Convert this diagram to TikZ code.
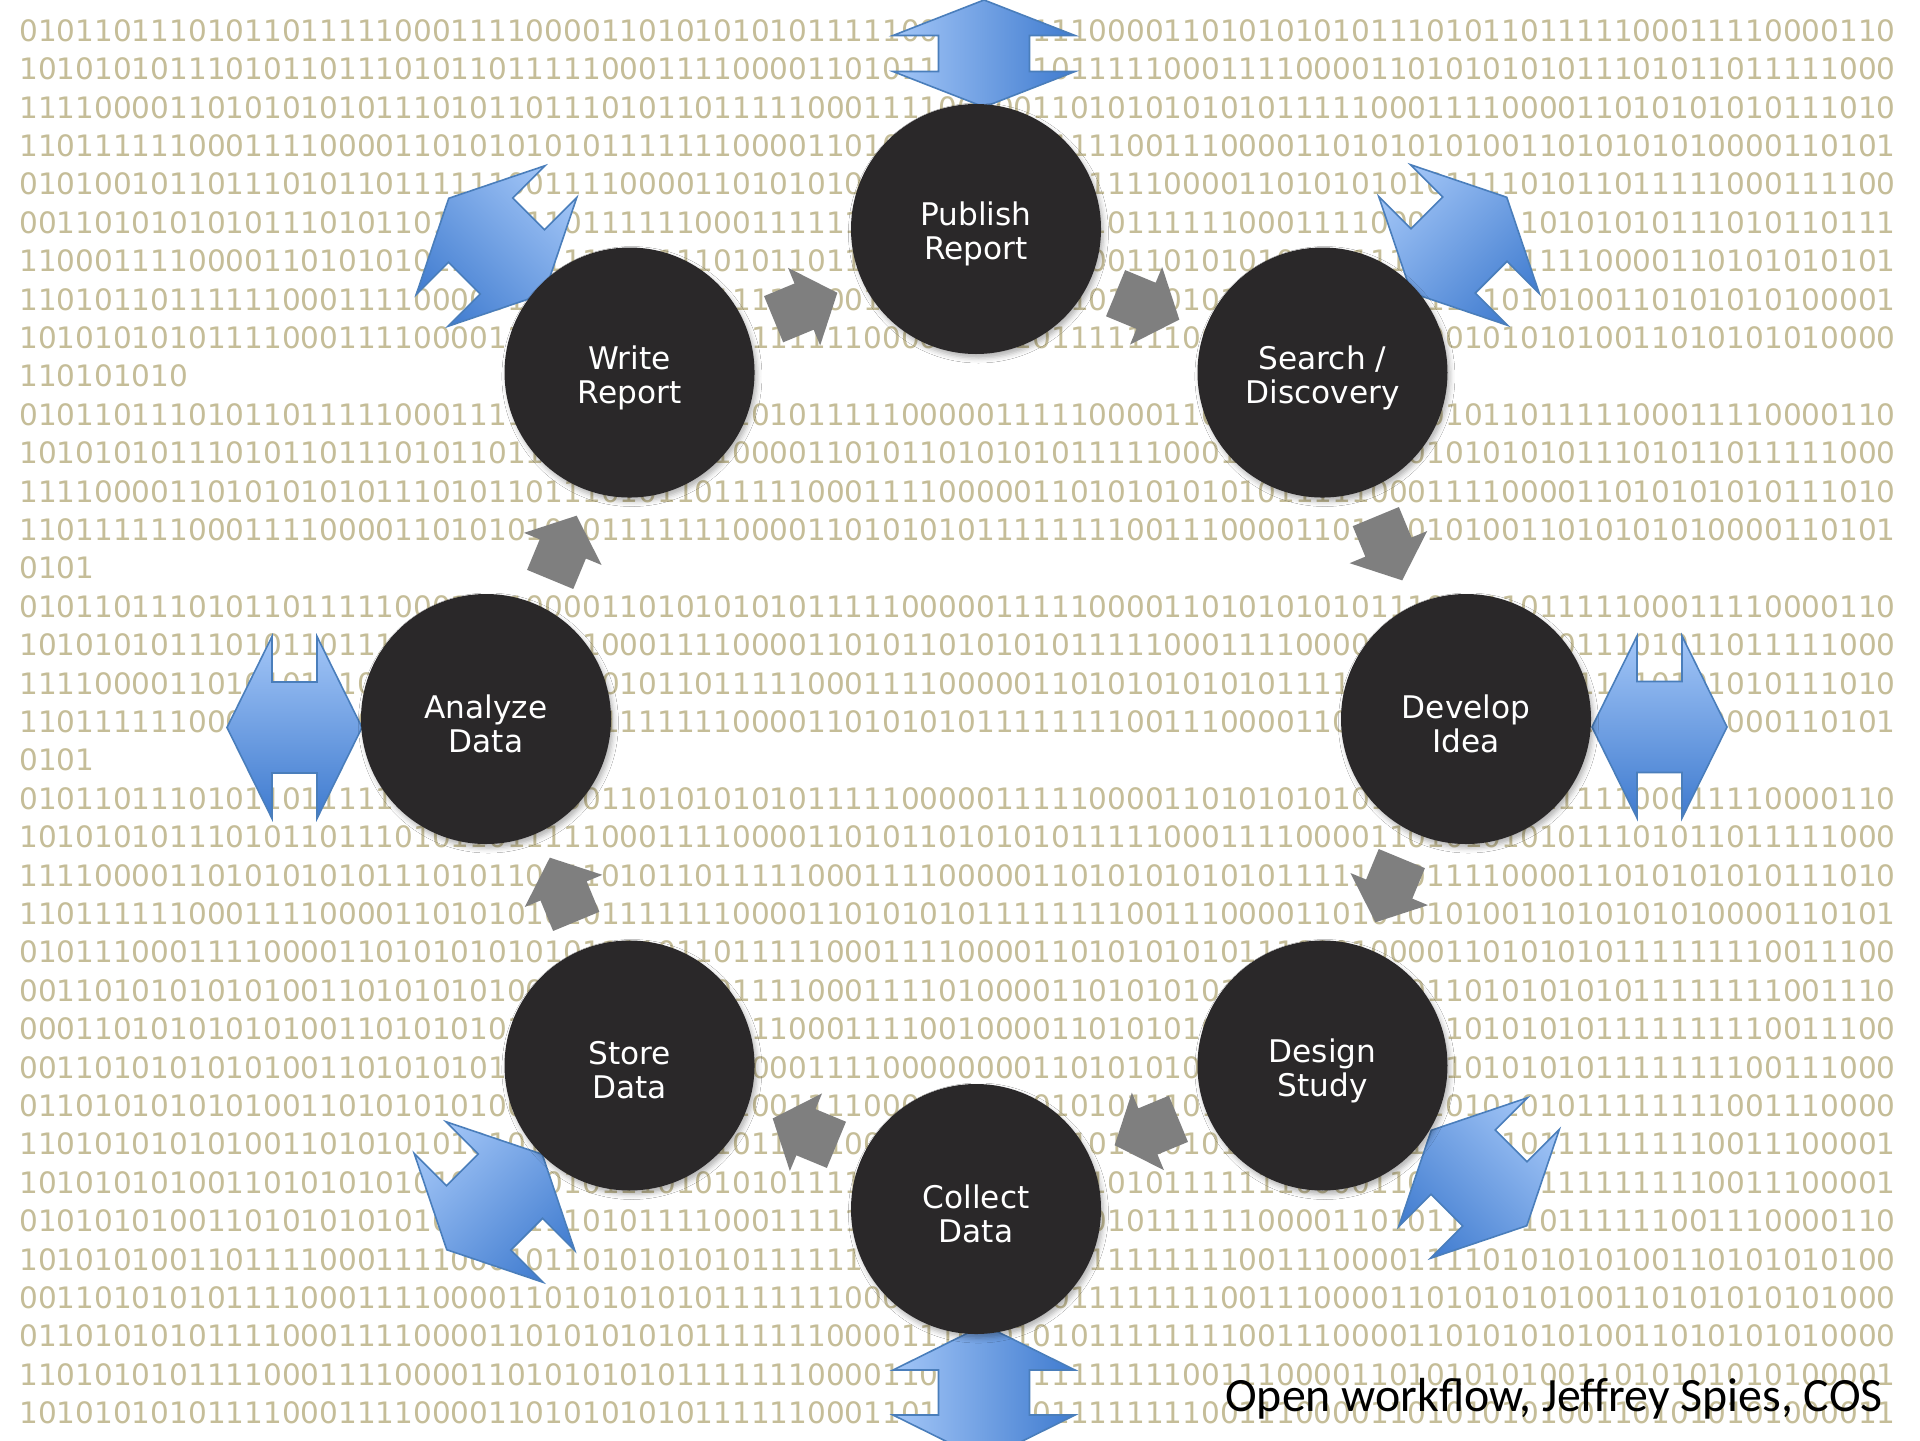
\documentclass[tikz,border=0pt]{standalone}
\usepackage{fontspec}
\usetikzlibrary{calc,shadows.blur}
\newfontfamily\dejavu{DejaVu Sans}
\newfontfamily\carlito{Carlito}
\definecolor{bitcol}{HTML}{C5BD98}
\definecolor{disc}{HTML}{2A2829}
\definecolor{flowgray}{HTML}{7F7F7F}
\definecolor{bluelight}{HTML}{A3C6F7}
\definecolor{bluedark}{HTML}{3F7BCF}
\definecolor{blueline}{HTML}{4A7EBB}

% rows of the binary backdrop
\newcommand\binA{010110111010110111110001111000011010101010111110000011111}
\newcommand\binAr{0000110101010101110101101111100011110000110}
\newcommand\binB{1010101011101011011101011011111000111100001101011010101011111000111100001101010101011101011011111000}
\newcommand\binC{1111000011010101010111010110111010110111110001111000001101010101010111110001111000011010101010111010}
\newcommand\binD{1101111110001111000011010101010111111100001101010101111111100111000011010101010011010101010000110101}
\newcommand\binE{0101001011011101011011111100111100001101010101011111100001111000011010101010111101011011111000111100}
\newcommand\binF{0011010101010111010110111111101111110001111111010000001011011111100011110000111110101010111010110111}
\newcommand\binG{1100011110000110101010110111111000111010110111110000110100011010101011111100011111110000110101010101}
\newcommand\binH{1101011011111100011110000011110101101111110001111000011010101010111111100001111010100110101010100001}
\newcommand\binI{1010101010111100011110000110111111000111111110000110010111111100111000011010010101010011010101010000}
\newcommand\binJ{110101010}
\newcommand\binK{0101}
\newcommand\binL{0101110001111000011010101010101101011011111000111100001101010101011100010000110101010111111110011100}
\newcommand\binM{0011010101010100110101010100011110101011110001111010000110101010111010100001101010101011111111001110}
\newcommand\binN{0001101010101010011010101010101011101111100011110010000110101010110101010001101010101111111110011100}
\newcommand\binO{0011010101010100110101010101011010111110001111000000001101010100101001010110101010101111111100111000}
\newcommand\binP{0110101010101001101010101000011010111110011110001111010101011101010101010101010101011111111001110000}
\newcommand\binQ{1101010101010011010101010101001110101101111100001110101010111010101101011010010101111111110011100001}
\newcommand\binR{1010101010011010101010101101010111010101011110001111000111010111111100001101010101111111110011100001}
\newcommand\binS{0101010100110101010101000101110101111000111110000111010100101111110000110101101010111111001110000110}
\newcommand\binT{1010101001101111000111100010110101010101111111110001111001111111100111000011110101010100110101010100}
\newcommand\binU{0011010101011110001111000011010101010111111100011010111011111111001110000110101010100110101010101000}
\newcommand\binV{0110101010111100011110000110101010101111111000011101010101111111100111000011010101010011010101010000}
\newcommand\binW{1101010101111000111100001101010101011111110000110101101111111100111000011010101010011010101010100001}
\newcommand\binX{1010101010111100011110000110101010101111110001101101100111111110011100001101010101001101010101000011}

% double-headed block arrow, drawn about its centre and turned by the canvas
% #1,#2 centre, #3 turn, #4 half length, #5 distance of the head bases from the centre
\newcommand\duplexarrow[5]{%
  \begin{scope}[transform canvas={shift={(#1,#2)},rotate=#3}]
    \path[linkarrow] (-#4pt,0pt) -- (-#5pt,45.5pt) -- (-#5pt,22.75pt)
      -- (#5pt,22.75pt) -- (#5pt,45.5pt) -- (#4pt,0pt) -- (#5pt,-45.5pt)
      -- (#5pt,-22.75pt) -- (-#5pt,-22.75pt) -- (-#5pt,-45.5pt) -- cycle;
  \end{scope}}

% grey step arrow between two stages, pulled a little toward the hub;
% #3 = direction on the page
\newcommand\steparrow[3]{%
  \fill[flowarrow, shift={($0.013*(hub)+0.4935*(#1)+0.4935*(#2)$)}, rotate=#3]
    (-34,-25) -- (-1,-25) -- (-1,-42) -- (35,0) -- (-1,42) -- (-1,25) -- (-34,25) -- cycle;}

\begin{document}
\begin{tikzpicture}[x=0.5pt,y=-0.5pt,
  bits/.style={anchor=base west, inner sep=0pt, text=bitcol,
    font=\dejavu\fontsize{14.75}{17}\selectfont},
  stage/.style={circle, fill=disc, minimum size=125pt, inner sep=0pt,
    blur shadow={shadow xshift=1.2pt, shadow yshift=-2pt,
      shadow blur radius=2.5pt, shadow opacity=30}},
  stagelabel/.style={text=white, inner sep=0pt, align=center,
    font=\dejavu\fontsize{15.6}{17}\selectfont},
  flowarrow/.style={fill=flowgray},
  linkarrow/.style={draw=blueline, line width=0.8pt, line join=miter,
    top color=bluelight, bottom color=bluedark},
]
\useasboundingbox[fill=white] (0,0) rectangle (1920,1440);

% binary backdrop
\foreach \t [count=\i] in {\binA\binAr,\binB,\binC,\binD,\binE,\binF,\binG,\binH,\binI,\binJ,
  \binA\binAr,\binB,\binC,\binD,\binK,
  \binA\binAr,\binB,\binC,\binD,\binK,
  \binA\binAr,\binB,\binC,\binD,
  \binL,\binM,\binN,\binO,\binP,\binQ,\binR,\binS,\binT,\binU,\binV,\binW,\binX}
  \node[bits] (bits\i) at (19,{41.3+(\i-1)*38.4}) {\t};

% ring of stages (the y axis points down, so angles are mirrored)
\coordinate (hub) at (976,719);
\coordinate (publish) at ($(hub)+(-90:490)$);
\coordinate (search)  at ($(hub)+(-45:490)$);
\coordinate (develop) at ($(hub)+(0:490)$);
\coordinate (design)  at ($(hub)+(45:490)$);
\coordinate (collect) at ($(hub)+(90:490)$);
\coordinate (store)   at ($(hub)+(135:490)$);
\coordinate (analyze) at ($(hub)+(180:490)$);
\coordinate (write)   at ($(hub)+(-135:490)$);

% grey arrows: clockwise flow from stage to stage
\steparrow{write}{publish}{22.5}
\steparrow{publish}{search}{-22.5}
\steparrow{search}{develop}{-67.5}
\steparrow{develop}{design}{-112.5}
\steparrow{design}{collect}{-157.5}
\steparrow{collect}{store}{157.5}
\steparrow{store}{analyze}{112.5}
\steparrow{analyze}{write}{67.5}

% blue two-way arrows on the outside
\duplexarrow{984}{53.5}{90}{26.75}{9}
\duplexarrow{496.5}{246}{-45}{33.75}{11.25}
\duplexarrow{1459}{245}{45}{33.75}{11.25}
\duplexarrow{1659.5}{727}{0}{33.75}{11.25}
\duplexarrow{294.5}{727.5}{0}{33.75}{11.25}
\duplexarrow{1479}{1178}{-45}{33.75}{11.25}
\duplexarrow{494.5}{1202}{45}{33.75}{11.25}
\duplexarrow{984}{1392.5}{90}{33.75}{11.25}

% stage discs and their names
\foreach \s/\txt in {publish/{Publish\\Report}, search/{Search /\\Discovery},
    develop/{Develop\\Idea}, design/{Design\\Study}, collect/{Collect\\Data},
    store/{Store\\Data}, analyze/{Analyze\\Data}, write/{Write\\Report}} {
  \node[stage] (\s N) at (\s) {};
  \node[stagelabel] (\s T) at ([yshift=-2.5pt]\s N.center) {\txt};
}

% credit line
\node[anchor=base east, inner sep=0pt, font=\carlito\fontsize{23.9}{28}\selectfont]
  (credit) at (1883,1411) {Open workflow, Jeffrey Spies, COS};
\end{tikzpicture}
\end{document}
